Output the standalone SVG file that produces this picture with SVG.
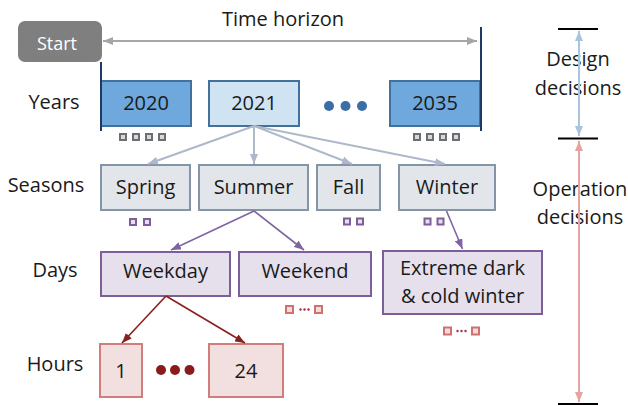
<svg xmlns="http://www.w3.org/2000/svg" width="628" height="406" viewBox="0 0 628 406">
  <style>
    text { font-family: "Open Sans", "Liberation Sans", sans-serif; fill: #1a1a1a; font-size: 20px; }
    .mid { text-anchor: middle; }
    .year { stroke: #41719c; stroke-width: 2; }
    .season { fill: #e2e6ea; stroke: #8495a8; stroke-width: 2; }
    .day { fill: #e5e0ec; stroke: #7b5e9a; stroke-width: 2; }
    .hour { fill: #f2e0e0; stroke: #d27c7c; stroke-width: 2; }
    .sq-grey { fill: #d9d9d9; stroke: #6b6f74; stroke-width: 2; }
    .sq-purple { fill: #e6dff0; stroke: #7b5e9a; stroke-width: 2; }
    .sq-red { fill: #f2dcdc; stroke: #d27070; stroke-width: 2; }
    .bar { stroke: #000; stroke-width: 2; }
    .navy { stroke: #1f3864; stroke-width: 2; }
  </style>
  <defs>
    <marker id="ah-grey" viewBox="0 0 10 8" refX="10" refY="4" markerWidth="10" markerHeight="8" markerUnits="userSpaceOnUse" orient="auto-start-reverse">
      <path d="M0,0 L10,4 L0,8 z" fill="#a6a6a6"/>
    </marker>
    <marker id="ah-slate" viewBox="0 0 10 8" refX="10" refY="4" markerWidth="10" markerHeight="8" markerUnits="userSpaceOnUse" orient="auto">
      <path d="M0,0 L10,4 L0,8 z" fill="#adb9ca"/>
    </marker>
    <marker id="ah-purple" viewBox="0 0 10 8" refX="10" refY="4" markerWidth="10" markerHeight="8" markerUnits="userSpaceOnUse" orient="auto">
      <path d="M0,0 L10,4 L0,8 z" fill="#8064a2"/>
    </marker>
    <marker id="ah-red" viewBox="0 0 10 8" refX="10" refY="4" markerWidth="10" markerHeight="8" markerUnits="userSpaceOnUse" orient="auto">
      <path d="M0,0 L10,4 L0,8 z" fill="#8b1f1f"/>
    </marker>
    <marker id="ah-blue" viewBox="0 0 10 8" refX="10" refY="4" markerWidth="10" markerHeight="8" markerUnits="userSpaceOnUse" orient="auto-start-reverse">
      <path d="M0,0 L10,4 L0,8 z" fill="#a9c4e0"/>
    </marker>
    <marker id="ah-pink" viewBox="0 0 10 8" refX="10" refY="4" markerWidth="10" markerHeight="8" markerUnits="userSpaceOnUse" orient="auto-start-reverse">
      <path d="M0,0 L10,4 L0,8 z" fill="#e6a3a3"/>
    </marker>
  </defs>

  <!-- level labels -->
  <text x="54" y="109" class="mid">Years</text>
  <text x="46" y="192" class="mid">Seasons</text>
  <text x="55" y="277" class="mid">Days</text>
  <text x="55" y="371" class="mid">Hours</text>

  <!-- time horizon -->
  <text x="283" y="26" class="mid">Time horizon</text>

  <g id="start">
    <rect x="18" y="21" width="84" height="41" rx="7" fill="#7f7f7f"/>
    <text x="57" y="50" class="mid" style="fill:#ffffff;font-size:18px">Start</text>
  </g>

  <!-- years -->
  <g id="y2020">
    <rect x="101" y="81" width="90" height="45" class="year" fill="#6fa8dc"/>
    <text x="146" y="110" class="mid">2020</text>
  </g>
  <g id="y2021">
    <rect x="209" y="81" width="90" height="45" class="year" fill="#cfe3f3"/>
    <text x="254" y="110" class="mid">2021</text>
  </g>
  <g id="y2035">
    <rect x="390" y="81" width="90" height="45" class="year" fill="#6fa8dc"/>
    <text x="435" y="110" class="mid">2035</text>
  </g>
  <g id="year-dots" fill="#3a6ea5">
    <circle cx="329" cy="106" r="5"/>
    <circle cx="345.5" cy="106" r="5"/>
    <circle cx="362" cy="106" r="5"/>
  </g>

  <!-- horizon bounds -->
  <line x1="101" y1="62" x2="101" y2="131" class="navy"/>
  <line x1="481" y1="27" x2="481" y2="131" class="navy"/>

  <g id="year-squares">
    <rect x="120" y="134" width="6" height="6" class="sq-grey"/>
    <rect x="133" y="134" width="6" height="6" class="sq-grey"/>
    <rect x="146" y="134" width="6" height="6" class="sq-grey"/>
    <rect x="159" y="134" width="6" height="6" class="sq-grey"/>
    <rect x="414" y="134" width="6" height="6" class="sq-grey"/>
    <rect x="427" y="134" width="6" height="6" class="sq-grey"/>
    <rect x="440" y="134" width="6" height="6" class="sq-grey"/>
    <rect x="453" y="134" width="6" height="6" class="sq-grey"/>
  </g>

  <!-- seasons -->
  <g id="spring">
    <rect x="101" y="165" width="89" height="45" class="season"/>
    <text x="145.5" y="194" class="mid">Spring</text>
  </g>
  <g id="summer">
    <rect x="199" y="165" width="109" height="45" class="season"/>
    <text x="253.5" y="194" class="mid">Summer</text>
  </g>
  <g id="fall">
    <rect x="317" y="165" width="63" height="45" class="season"/>
    <text x="348.5" y="194" class="mid">Fall</text>
  </g>
  <g id="winter">
    <rect x="399" y="165" width="96" height="45" class="season"/>
    <text x="447" y="194" class="mid">Winter</text>
  </g>

  <g id="season-squares">
    <rect x="130" y="219" width="6" height="6" class="sq-purple"/>
    <rect x="144" y="219" width="6" height="6" class="sq-purple"/>
    <rect x="344" y="218.5" width="6" height="6" class="sq-purple"/>
    <rect x="357" y="218.5" width="6" height="6" class="sq-purple"/>
    <rect x="424.5" y="218.5" width="6" height="6" class="sq-purple"/>
    <rect x="437.5" y="218.5" width="6" height="6" class="sq-purple"/>
  </g>

  <!-- days -->
  <g id="weekday">
    <rect x="101" y="252" width="129" height="44" class="day"/>
    <text x="165.5" y="278" class="mid">Weekday</text>
  </g>
  <g id="weekend">
    <rect x="239" y="252" width="132" height="44" class="day"/>
    <text x="305" y="278" class="mid">Weekend</text>
  </g>
  <g id="extreme">
    <rect x="383" y="251" width="159" height="63" class="day"/>
    <text x="462.5" y="275" class="mid">Extreme dark</text>
    <text x="462.5" y="303" class="mid">&amp; cold winter</text>
  </g>

  <g id="day-squares">
    <rect x="286" y="306" width="7" height="7" class="sq-red"/>
    <rect x="315" y="306" width="7" height="7" class="sq-red"/>
    <rect x="444" y="327.5" width="7" height="7" class="sq-red"/>
    <rect x="472" y="327.5" width="7" height="7" class="sq-red"/>
    <g fill="#a3303a">
      <circle cx="300.5" cy="309.5" r="1.2"/>
      <circle cx="304.5" cy="309.5" r="1.2"/>
      <circle cx="308.5" cy="309.5" r="1.2"/>
      <circle cx="457.5" cy="331" r="1.2"/>
      <circle cx="461.5" cy="331" r="1.2"/>
      <circle cx="465.5" cy="331" r="1.2"/>
    </g>
  </g>

  <!-- hours -->
  <g id="h1">
    <rect x="100" y="344" width="42" height="53" class="hour"/>
    <text x="121" y="378" class="mid">1</text>
  </g>
  <g id="h24">
    <rect x="209" y="344" width="74" height="53" class="hour"/>
    <text x="246" y="378" class="mid">24</text>
  </g>
  <g id="hour-dots" fill="#8b1a1a">
    <circle cx="161" cy="370" r="5"/>
    <circle cx="175" cy="370" r="5"/>
    <circle cx="189.5" cy="370" r="5"/>
  </g>

  <!-- decision scopes -->
  <g id="scopes">
    <line x1="558" y1="29" x2="598" y2="29" class="bar"/>
    <line x1="558" y1="138.5" x2="598" y2="138.5" class="bar"/>
    <line x1="558" y1="404" x2="598" y2="404" class="bar"/>
    <text x="578" y="66" class="mid">Design</text>
    <text x="578" y="95" class="mid">decisions</text>
    <text x="580" y="196" class="mid">Operation</text>
    <text x="580" y="224" class="mid">decisions</text>
  </g>

  <!-- connectors -->
  <g id="connectors" fill="none">
    <line x1="103" y1="41" x2="477" y2="41" stroke="#a6a6a6" stroke-width="2" marker-start="url(#ah-grey)" marker-end="url(#ah-grey)"/>
    <line x1="579" y1="31" x2="579" y2="136" stroke="#a9c4e0" stroke-width="2" marker-start="url(#ah-blue)" marker-end="url(#ah-blue)"/>
    <line x1="579" y1="141" x2="579" y2="402" stroke="#e6a3a3" stroke-width="2" marker-start="url(#ah-pink)" marker-end="url(#ah-pink)"/>

    <g stroke="#adb9ca" stroke-width="2">
      <line x1="254" y1="126" x2="148" y2="164" marker-end="url(#ah-slate)"/>
      <line x1="254" y1="126" x2="254" y2="164" marker-end="url(#ah-slate)"/>
      <line x1="254" y1="126" x2="352" y2="164" marker-end="url(#ah-slate)"/>
      <line x1="254" y1="126" x2="445" y2="164" marker-end="url(#ah-slate)"/>
    </g>
    <g stroke="#8064a2" stroke-width="1.6">
      <line x1="254" y1="211" x2="171" y2="250" marker-end="url(#ah-purple)"/>
      <line x1="254" y1="211" x2="304" y2="250" marker-end="url(#ah-purple)"/>
      <line x1="446.5" y1="211" x2="462.5" y2="249" marker-end="url(#ah-purple)"/>
    </g>
    <g stroke="#8b1f1f" stroke-width="1.6">
      <line x1="166" y1="296" x2="122" y2="343" marker-end="url(#ah-red)"/>
      <line x1="166" y1="296" x2="245" y2="343" marker-end="url(#ah-red)"/>
    </g>
  </g>
</svg>
